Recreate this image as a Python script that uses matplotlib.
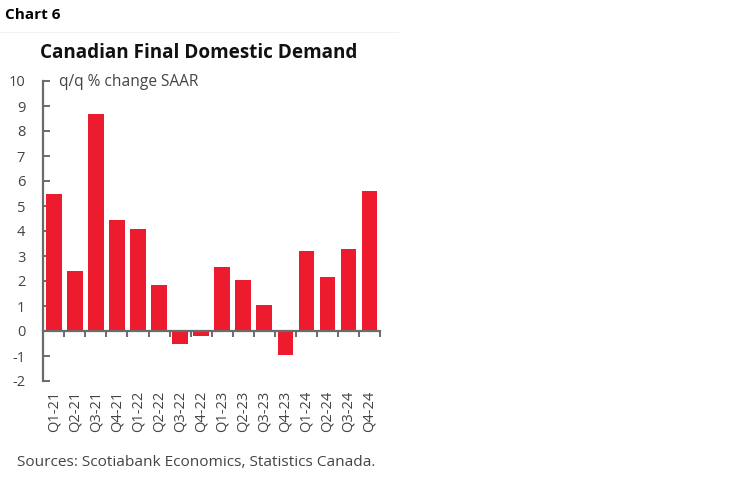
import matplotlib
matplotlib.use("Agg")
import matplotlib.pyplot as plt
from matplotlib.lines import Line2D
import numpy as np

# data
quarters = ["Q1-21", "Q2-21", "Q3-21", "Q4-21", "Q1-22", "Q2-22", "Q3-22", "Q4-22",
            "Q1-23", "Q2-23", "Q3-23", "Q4-23", "Q1-24", "Q2-24", "Q3-24", "Q4-24"]
demand_qq = [5.5, 2.4, 8.7, 4.45, 4.1, 1.85, -0.5, -0.2,
             2.55, 2.05, 1.05, -0.95, 3.2, 2.15, 3.3, 5.6]
y_ticks = list(range(-2, 11))

plt.rcParams["font.family"] = ["Open Sans", "DejaVu Sans"]

red = "#ec1c2e"
axis_grey = "#6b6b6b"
text_grey = "#444444"

fig = plt.figure(figsize=(7.49, 4.82), dpi=100)
W, H = 749, 482

# faint separator line above the chart panel
fig.lines.append(Line2D([0, 398 / W], [1 - 32 / H, 1 - 32 / H], transform=fig.transFigure,
                        color="#f2f2f2", linewidth=0.8))

ax = fig.add_axes([43.3 / W, 1 - 381 / H, (380 - 43.3) / W, 300 / H])

x = np.arange(len(quarters))
ax.bar(x, demand_qq, width=0.74, color=red, zorder=2)

ax.set_xlim(-0.5, len(quarters) - 0.5)
ax.set_ylim(-2, 10)

for side in ["top", "right"]:
    ax.spines[side].set_visible(False)
ax.spines["left"].set_color(axis_grey)
ax.spines["left"].set_linewidth(1.6)
ax.spines["bottom"].set_position(("data", 0))
ax.spines["bottom"].set_color(axis_grey)
ax.spines["bottom"].set_linewidth(1.6)
ax.spines["bottom"].set_zorder(3)

ax.set_yticks(y_ticks)
ax.set_yticklabels([str(v) for v in y_ticks], fontsize=10.5, color=text_grey)
ax.tick_params(axis="y", direction="in", length=5, width=1.4, color=axis_grey, pad=13)

# x ticks between bars on the zero line, labels at the bottom
ax.set_xticks(x + 0.5)
ax.set_xticklabels([])
ax.tick_params(axis="x", direction="out", length=4, width=1.4, color=axis_grey)
for xi, lab in zip(x, quarters):
    ax.text(xi, -2.4, lab, rotation=90, ha="center", va="top", fontsize=10.5,
            color=text_grey, transform=ax.transData)

ax.text(0.25, 9.95, "q/q % change SAAR", fontsize=11.2, color=text_grey,
        ha="left", va="center")

fig.text(5 / W, 1 - 15 / H, "Chart 6", fontsize=11, fontweight="bold",
         ha="left", va="center", color="black")
fig.text(40 / W, 1 - 53 / H, "Canadian Final Domestic Demand", fontsize=13.6,
         fontweight="bold", ha="left", va="center", color="#111111")
fig.text(17 / W, 1 - 462 / H, "Sources: Scotiabank Economics, Statistics Canada.",
         fontsize=11.1, ha="left", va="center", color=text_grey)

fig.savefig("out.png", dpi=100)
